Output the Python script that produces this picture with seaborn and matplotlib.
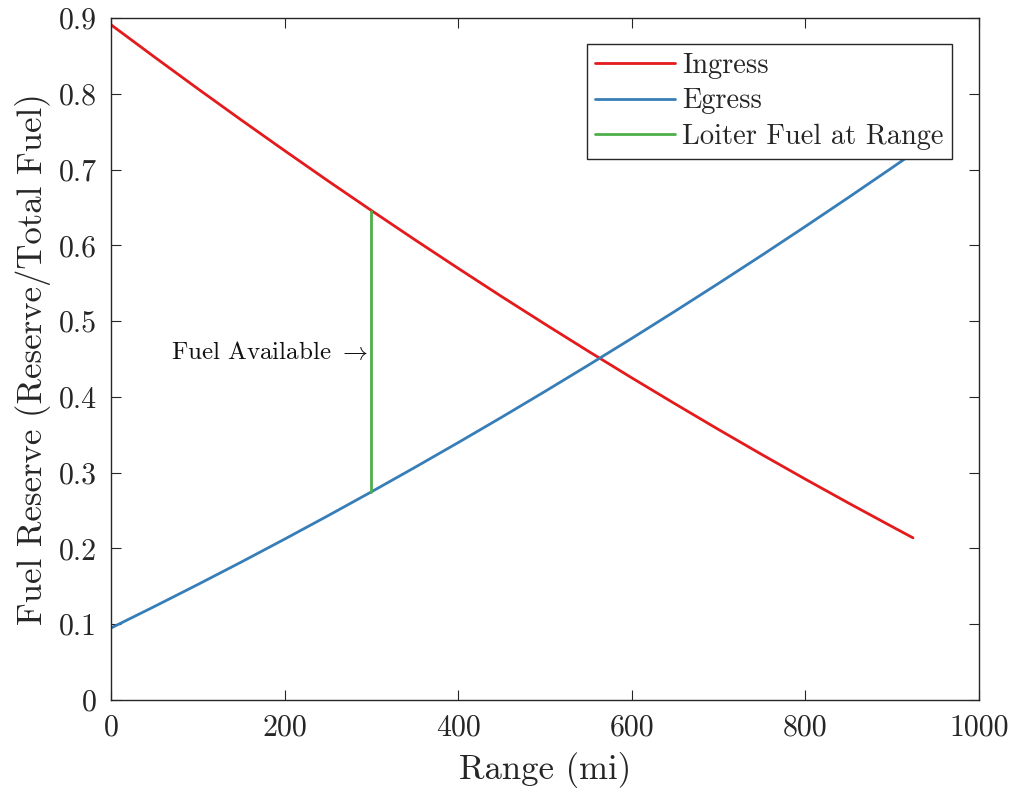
import matplotlib
matplotlib.use("Agg")
import matplotlib.pyplot as plt
import seaborn as sns
import pandas as pd

# ---- data ----
range_mi = [0, 50, 100, 150, 200, 250, 300, 350, 400, 450, 500, 550, 600,
            650, 700, 750, 800, 850, 900, 924]
ingress = [0.891, 0.8485, 0.8066, 0.7654, 0.7249, 0.6850, 0.6459, 0.6074, 0.5696,
           0.5324, 0.4960, 0.4602, 0.4251, 0.3907, 0.3569, 0.3238, 0.2914, 0.2597,
           0.2287, 0.2140]
egress = [0.095, 0.1234, 0.1524, 0.1820, 0.2123, 0.2432, 0.2747, 0.3069, 0.3397,
          0.3731, 0.4072, 0.4419, 0.4772, 0.5132, 0.5498, 0.5870, 0.6249, 0.6634,
          0.7025, 0.7216]
loiter_x = [300, 300]
loiter_y = [0.2747, 0.6459]
series_names = ["Ingress", "Egress", "Loiter Fuel at Range"]
x_ticks = [0, 200, 400, 600, 800, 1000]
y_ticks = [0, 0.1, 0.2, 0.3, 0.4, 0.5, 0.6, 0.7, 0.8, 0.9]

df = pd.concat([
    pd.DataFrame({"x": range_mi, "y": ingress, "s": series_names[0]}),
    pd.DataFrame({"x": range_mi, "y": egress, "s": series_names[1]}),
    pd.DataFrame({"x": loiter_x, "y": loiter_y, "s": series_names[2]}),
], ignore_index=True)

sns.set_theme(style="ticks")
plt.rcParams["font.family"] = ["cmr10", "DejaVu Serif"]
plt.rcParams["mathtext.fontset"] = "cm"
plt.rcParams["axes.formatter.use_mathtext"] = True
plt.rcParams["axes.unicode_minus"] = False

palette = {series_names[0]: "#e41a1c", series_names[1]: "#377eb8", series_names[2]: "#4daf4a"}

fig = plt.figure(figsize=(10.15, 7.95), dpi=100)
ax = fig.add_axes([0.1094, 0.1195, 0.8551, 0.8579])

sns.lineplot(data=df, x="x", y="y", hue="s", palette=palette, sort=False,
             estimator=None, linewidth=2.0, ax=ax, hue_order=series_names)

ax.set_xlim(0, 1000)
ax.set_ylim(0, 0.9)
ax.set_xticks(x_ticks)
ax.set_yticks(y_ticks)
ax.set_xticklabels([str(v) for v in x_ticks])
ax.set_yticklabels(["0"] + [f"{v:.1f}" for v in y_ticks[1:]])

edge = "#262626"
for sp in ax.spines.values():
    sp.set_color(edge)
    sp.set_linewidth(1.0)
ax.tick_params(direction="in", top=True, right=True, length=7, width=0.8,
               colors=edge, labelcolor="#262626", labelsize=21.5, pad=10)

ax.set_xlabel("Range (mi)", fontsize=25, color="#262626", labelpad=8)
ax.set_ylabel("Fuel Reserve (Reserve/Total Fuel)", fontsize=25, color="#262626", labelpad=6)

ax.text(297, 0.459, r"Fuel Available $\rightarrow$", ha="right", va="center",
        fontsize=18, color="#111111")

leg = ax.legend(loc="upper right", bbox_to_anchor=(0.969, 0.962), fontsize=20.5,
                frameon=True, fancybox=False, framealpha=1, edgecolor=edge,
                handlelength=2.8, handletextpad=0.25, borderpad=0.3, labelspacing=0.33,
                borderaxespad=0)
leg.get_frame().set_linewidth(1.0)
leg.set_title(None)
for h in leg.get_lines():
    h.set_linewidth(2.0)

fig.savefig("out.png", dpi=100)
